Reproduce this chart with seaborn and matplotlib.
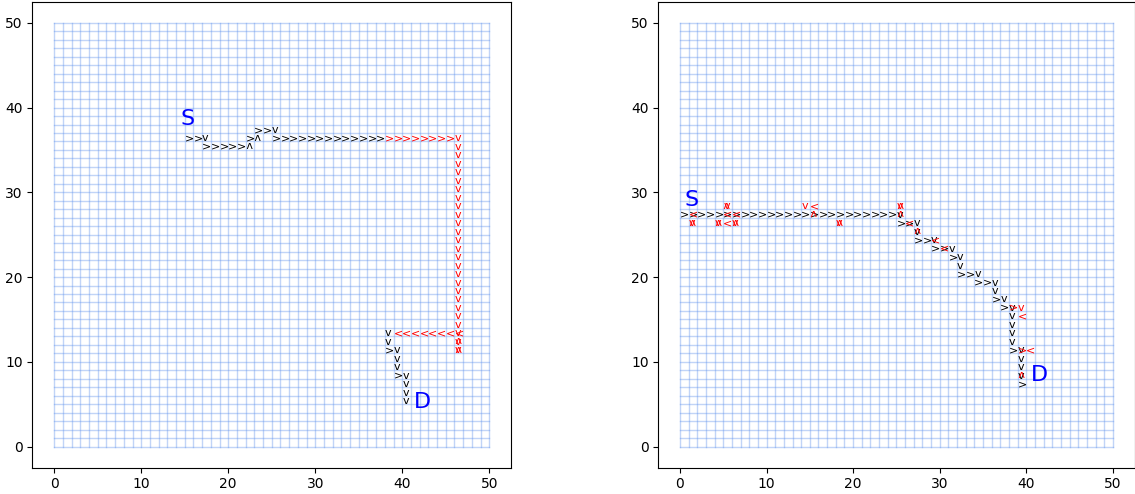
import pandas as pd
import matplotlib
matplotlib.use("Agg")
import matplotlib.pyplot as plt
import seaborn as sns

GRID_N = 50
TICKS = [0, 10, 20, 30, 40, 50]

# cell (x, y) + direction of each step
left_black = [
    (15, 36, ">"), (16, 36, ">"), (17, 36, "v"),
    (17, 35, ">"), (18, 35, ">"), (19, 35, ">"), (20, 35, ">"), (21, 35, ">"), (22, 35, "^"),
    (22, 36, ">"), (23, 36, "^"), (23, 37, ">"), (24, 37, ">"), (25, 37, "v"),
    (25, 36, ">"), (26, 36, ">"), (27, 36, ">"), (28, 36, ">"), (29, 36, ">"), (30, 36, ">"),
    (31, 36, ">"), (32, 36, ">"), (33, 36, ">"), (34, 36, ">"), (35, 36, ">"), (36, 36, ">"),
    (37, 36, ">"),
    (38, 13, "v"), (38, 12, "v"), (38, 11, ">"), (39, 11, "v"), (39, 10, "v"), (39, 9, "v"),
    (39, 8, ">"), (40, 8, "v"), (40, 7, "v"), (40, 6, "v"), (40, 5, "v"),
]
left_red = [
    (38, 36, ">"), (39, 36, ">"), (40, 36, ">"), (41, 36, ">"), (42, 36, ">"), (43, 36, ">"),
    (44, 36, ">"), (45, 36, ">"),
    (46, 36, "v"), (46, 35, "v"), (46, 34, "v"), (46, 33, "v"), (46, 32, "v"), (46, 31, "v"),
    (46, 30, "v"), (46, 29, "v"), (46, 28, "v"), (46, 27, "v"), (46, 26, "v"), (46, 25, "v"),
    (46, 24, "v"), (46, 23, "v"), (46, 22, "v"), (46, 21, "v"), (46, 20, "v"), (46, 19, "v"),
    (46, 18, "v"), (46, 17, "v"), (46, 16, "v"), (46, 15, "v"), (46, 14, "v"), (46, 13, "v"),
    (46, 12, "v"), (46, 11, "v"), (46, 11, "^"), (46, 12, "^"), (46, 13, "<"),
    (45, 13, "<"), (44, 13, "<"), (43, 13, "<"), (42, 13, "<"), (41, 13, "<"), (40, 13, "<"),
    (39, 13, "<"),
]

right_black = [(i, 27, ">") for i in range(25)] + [
    (25, 27, "v"), (25, 26, ">"), (26, 26, ">"), (27, 26, "v"), (27, 25, "v"), (27, 24, ">"),
    (28, 24, ">"), (29, 24, "v"), (29, 23, ">"), (30, 23, ">"), (31, 23, "v"), (31, 22, ">"),
    (32, 22, "v"), (32, 21, "v"), (32, 20, ">"), (33, 20, ">"), (34, 20, "v"), (34, 19, ">"),
    (35, 19, ">"), (36, 19, "v"), (36, 18, "v"), (36, 17, ">"), (37, 17, "v"), (37, 16, ">"),
    (38, 16, "v"), (38, 15, "v"), (38, 14, "v"), (38, 13, "v"), (38, 12, "v"), (38, 11, ">"),
    (39, 11, "v"), (39, 10, "v"), (39, 9, "v"), (39, 8, "v"), (39, 7, ">"),
]
right_red = [
    (1, 27, "<"), (1, 26, "v"), (1, 26, "^"), (4, 26, "v"), (4, 26, "^"),
    (5, 28, "v"), (5, 28, "^"), (5, 27, "<"), (6, 27, "<"), (5, 26, "<"),
    (6, 26, "v"), (6, 26, "^"),
    (14, 28, "v"), (15, 28, "<"), (15, 27, "^"), (18, 26, "v"), (18, 26, "^"),
    (25, 28, "v"), (25, 28, "^"), (25, 27, "^"), (26, 26, "<"), (27, 25, "^"),
    (29, 24, "<"), (30, 23, "<"),
    (38, 16, ">"), (39, 16, "v"), (39, 15, "<"), (39, 11, ">"), (40, 11, "<"), (39, 8, "^"),
]

left_labels = [("S", 14.5, 38.0), ("D", 41.3, 4.5)]
right_labels = [("S", 0.5, 28.4), ("D", 40.5, 7.7)]

ARROW_SIZE = 8


def grid_frame(n):
    rows = []
    for k in range(n + 1):
        rows.append({"line": f"v{k}", "x": k, "y": 0})
        rows.append({"line": f"v{k}", "x": k, "y": n})
        rows.append({"line": f"h{k}", "x": 0, "y": k})
        rows.append({"line": f"h{k}", "x": n, "y": k})
    return pd.DataFrame(rows)


def draw_steps(ax, steps, color):
    for cx, cy, d in steps:
        if d == "^":
            # a "v" turned upside down reads better than the small caret
            ax.text(cx + 0.78, cy + 1.0, "v", color=color, fontsize=ARROW_SIZE,
                    rotation=180, rotation_mode="anchor", zorder=3)
        else:
            ax.text(cx, cy, d, color=color, fontsize=ARROW_SIZE, zorder=3)


def draw_panel(ax, black, red, labels):
    grid = grid_frame(GRID_N)
    sns.lineplot(data=grid, x="x", y="y", units="line", estimator=None, sort=False,
                 color="cornflowerblue", alpha=0.4, linewidth=1.0, ax=ax)

    draw_steps(ax, black, "black")
    draw_steps(ax, red, "red")

    for s, x, y in labels:
        ax.text(x, y, s, color="blue", fontsize=16)

    ax.set_xlim(-2.5, 52.5)
    ax.set_ylim(-2.5, 52.5)
    ax.set_xticks(TICKS)
    ax.set_yticks(TICKS)
    ax.set_xlabel("")
    ax.set_ylabel("")


fig = plt.figure(figsize=(11.35, 4.94), dpi=100)
ax1 = fig.add_axes([0.0286, 0.0532, 0.4216, 0.9434])
ax2 = fig.add_axes([0.5800, 0.0532, 0.4196, 0.9434])

draw_panel(ax1, left_black, left_red, left_labels)
draw_panel(ax2, right_black, right_red, right_labels)

fig.savefig("out.png", dpi=100)
